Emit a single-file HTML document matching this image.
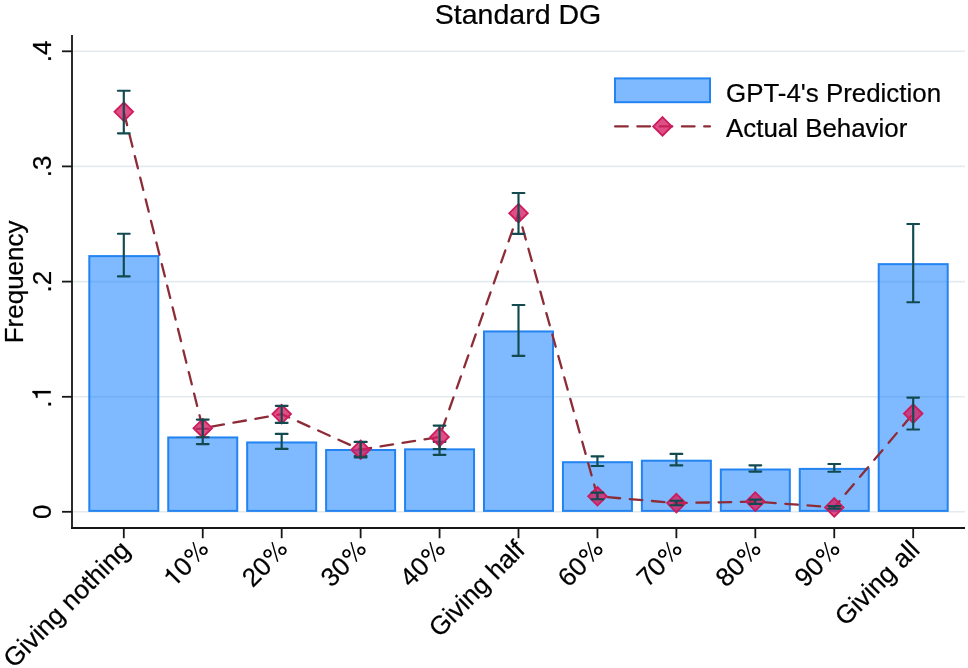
<!DOCTYPE html><html><head><meta charset="utf-8"><style>html,body{margin:0;padding:0;background:#fff;}svg{display:block;will-change:transform;font-family:"Liberation Sans",sans-serif;}text{stroke:#000;stroke-width:0.22px;stroke-linejoin:round;}</style></head><body>
<svg width="968" height="668" viewBox="0 0 968 668">
<rect width="968" height="668" fill="#fff"/>
<line x1="73" y1="51.3" x2="965" y2="51.3" stroke="#e3ebee" stroke-width="1.6"/>
<line x1="73" y1="166.4" x2="965" y2="166.4" stroke="#e3ebee" stroke-width="1.6"/>
<line x1="73" y1="281.6" x2="965" y2="281.6" stroke="#e3ebee" stroke-width="1.6"/>
<line x1="73" y1="396.8" x2="965" y2="396.8" stroke="#e3ebee" stroke-width="1.6"/>
<line x1="73" y1="511.8" x2="965" y2="511.8" stroke="#e3ebee" stroke-width="1.6"/>
<rect x="89.30" y="256.10" width="69.00" height="254.80" fill="rgb(0,116,255)" fill-opacity="0.5" stroke="#2384f1" stroke-width="2"/>
<rect x="168.24" y="437.45" width="69.00" height="73.45" fill="rgb(0,116,255)" fill-opacity="0.5" stroke="#2384f1" stroke-width="2"/>
<rect x="247.18" y="442.45" width="69.00" height="68.45" fill="rgb(0,116,255)" fill-opacity="0.5" stroke="#2384f1" stroke-width="2"/>
<rect x="326.12" y="450.00" width="69.00" height="60.90" fill="rgb(0,116,255)" fill-opacity="0.5" stroke="#2384f1" stroke-width="2"/>
<rect x="405.06" y="449.35" width="69.00" height="61.55" fill="rgb(0,116,255)" fill-opacity="0.5" stroke="#2384f1" stroke-width="2"/>
<rect x="484.00" y="331.45" width="69.00" height="179.45" fill="rgb(0,116,255)" fill-opacity="0.5" stroke="#2384f1" stroke-width="2"/>
<rect x="562.94" y="462.20" width="69.00" height="48.70" fill="rgb(0,116,255)" fill-opacity="0.5" stroke="#2384f1" stroke-width="2"/>
<rect x="641.88" y="460.70" width="69.00" height="50.20" fill="rgb(0,116,255)" fill-opacity="0.5" stroke="#2384f1" stroke-width="2"/>
<rect x="720.82" y="469.50" width="69.00" height="41.40" fill="rgb(0,116,255)" fill-opacity="0.5" stroke="#2384f1" stroke-width="2"/>
<rect x="799.76" y="468.90" width="69.00" height="42.00" fill="rgb(0,116,255)" fill-opacity="0.5" stroke="#2384f1" stroke-width="2"/>
<rect x="878.70" y="264.15" width="69.00" height="246.75" fill="rgb(0,116,255)" fill-opacity="0.5" stroke="#2384f1" stroke-width="2"/>
<path d="M123.80 233.70V276.40M117.90 233.70H129.70M117.90 276.40H129.70" stroke="#124a4f" stroke-width="2.15" stroke-linecap="round" fill="none"/>
<path d="M202.74 428.70V444.10M196.84 428.70H208.64M196.84 444.10H208.64" stroke="#124a4f" stroke-width="2.15" stroke-linecap="round" fill="none"/>
<path d="M281.68 433.90V448.90M275.78 433.90H287.58M275.78 448.90H287.58" stroke="#124a4f" stroke-width="2.15" stroke-linecap="round" fill="none"/>
<path d="M360.62 441.90V456.00M354.72 441.90H366.52M354.72 456.00H366.52" stroke="#124a4f" stroke-width="2.15" stroke-linecap="round" fill="none"/>
<path d="M439.56 441.80V454.80M433.66 441.80H445.46M433.66 454.80H445.46" stroke="#124a4f" stroke-width="2.15" stroke-linecap="round" fill="none"/>
<path d="M518.50 305.00V355.80M512.60 305.00H524.40M512.60 355.80H524.40" stroke="#124a4f" stroke-width="2.15" stroke-linecap="round" fill="none"/>
<path d="M597.44 456.30V466.00M591.54 456.30H603.34M591.54 466.00H603.34" stroke="#124a4f" stroke-width="2.15" stroke-linecap="round" fill="none"/>
<path d="M676.38 453.90V465.40M670.48 453.90H682.28M670.48 465.40H682.28" stroke="#124a4f" stroke-width="2.15" stroke-linecap="round" fill="none"/>
<path d="M755.32 465.30V471.60M749.42 465.30H761.22M749.42 471.60H761.22" stroke="#124a4f" stroke-width="2.15" stroke-linecap="round" fill="none"/>
<path d="M834.26 464.00V471.70M828.36 464.00H840.16M828.36 471.70H840.16" stroke="#124a4f" stroke-width="2.15" stroke-linecap="round" fill="none"/>
<path d="M913.20 224.00V302.20M907.30 224.00H919.10M907.30 302.20H919.10" stroke="#124a4f" stroke-width="2.15" stroke-linecap="round" fill="none"/>
<polyline points="123.80,111.80 202.74,428.20 281.68,414.10 360.62,449.70 439.56,436.90 518.50,213.20 597.44,496.30 676.38,503.10 755.32,501.60 834.26,507.40 913.20,413.60" fill="none" stroke="#8d2c37" stroke-width="2.3" stroke-linecap="round" stroke-dasharray="12.6 9.66" stroke-dashoffset="21.11"/>
<path d="M123.80 102.50L133.10 111.80L123.80 121.10L114.50 111.80Z" fill="rgba(214,30,100,0.78)" stroke="#cc1c5c" stroke-width="1.8" stroke-linejoin="miter"/>
<path d="M202.74 418.90L212.04 428.20L202.74 437.50L193.44 428.20Z" fill="rgba(214,30,100,0.78)" stroke="#cc1c5c" stroke-width="1.8" stroke-linejoin="miter"/>
<path d="M281.68 404.80L290.98 414.10L281.68 423.40L272.38 414.10Z" fill="rgba(214,30,100,0.78)" stroke="#cc1c5c" stroke-width="1.8" stroke-linejoin="miter"/>
<path d="M360.62 440.40L369.92 449.70L360.62 459.00L351.32 449.70Z" fill="rgba(214,30,100,0.78)" stroke="#cc1c5c" stroke-width="1.8" stroke-linejoin="miter"/>
<path d="M439.56 427.60L448.86 436.90L439.56 446.20L430.26 436.90Z" fill="rgba(214,30,100,0.78)" stroke="#cc1c5c" stroke-width="1.8" stroke-linejoin="miter"/>
<path d="M518.50 203.90L527.80 213.20L518.50 222.50L509.20 213.20Z" fill="rgba(214,30,100,0.78)" stroke="#cc1c5c" stroke-width="1.8" stroke-linejoin="miter"/>
<path d="M597.44 487.00L606.74 496.30L597.44 505.60L588.14 496.30Z" fill="rgba(214,30,100,0.78)" stroke="#cc1c5c" stroke-width="1.8" stroke-linejoin="miter"/>
<path d="M676.38 493.80L685.68 503.10L676.38 512.40L667.08 503.10Z" fill="rgba(214,30,100,0.78)" stroke="#cc1c5c" stroke-width="1.8" stroke-linejoin="miter"/>
<path d="M755.32 492.30L764.62 501.60L755.32 510.90L746.02 501.60Z" fill="rgba(214,30,100,0.78)" stroke="#cc1c5c" stroke-width="1.8" stroke-linejoin="miter"/>
<path d="M834.26 498.10L843.56 507.40L834.26 516.70L824.96 507.40Z" fill="rgba(214,30,100,0.78)" stroke="#cc1c5c" stroke-width="1.8" stroke-linejoin="miter"/>
<path d="M913.20 404.30L922.50 413.60L913.20 422.90L903.90 413.60Z" fill="rgba(214,30,100,0.78)" stroke="#cc1c5c" stroke-width="1.8" stroke-linejoin="miter"/>
<path d="M123.80 90.70V133.30M117.90 90.70H129.70M117.90 133.30H129.70" stroke="#124a4f" stroke-width="2.15" stroke-linecap="round" fill="none"/>
<path d="M202.74 419.60V437.20M196.84 419.60H208.64M196.84 437.20H208.64" stroke="#124a4f" stroke-width="2.15" stroke-linecap="round" fill="none"/>
<path d="M281.68 405.80V422.90M275.78 405.80H287.58M275.78 422.90H287.58" stroke="#124a4f" stroke-width="2.15" stroke-linecap="round" fill="none"/>
<path d="M360.62 442.00V457.40M354.72 442.00H366.52M354.72 457.40H366.52" stroke="#124a4f" stroke-width="2.15" stroke-linecap="round" fill="none"/>
<path d="M439.56 425.60V449.00M433.66 425.60H445.46M433.66 449.00H445.46" stroke="#124a4f" stroke-width="2.15" stroke-linecap="round" fill="none"/>
<path d="M518.50 193.00V233.80M512.60 193.00H524.40M512.60 233.80H524.40" stroke="#124a4f" stroke-width="2.15" stroke-linecap="round" fill="none"/>
<path d="M597.44 492.60V499.20M591.54 492.60H603.34M591.54 499.20H603.34" stroke="#124a4f" stroke-width="2.15" stroke-linecap="round" fill="none"/>
<path d="M676.38 500.70V505.20M670.48 500.70H682.28M670.48 505.20H682.28" stroke="#124a4f" stroke-width="2.15" stroke-linecap="round" fill="none"/>
<path d="M755.32 499.60V503.90M749.42 499.60H761.22M749.42 503.90H761.22" stroke="#124a4f" stroke-width="2.15" stroke-linecap="round" fill="none"/>
<path d="M834.26 506.10V508.70M828.36 506.10H840.16M828.36 508.70H840.16" stroke="#124a4f" stroke-width="2.15" stroke-linecap="round" fill="none"/>
<path d="M913.20 397.60V429.50M907.30 397.60H919.10M907.30 429.50H919.10" stroke="#124a4f" stroke-width="2.15" stroke-linecap="round" fill="none"/>
<path d="M72 35V529M71 528H965" stroke="#161616" stroke-width="1.8" fill="none"/>
<line x1="62" y1="51.3" x2="72" y2="51.3" stroke="#161616" stroke-width="1.8"/>
<line x1="62" y1="166.4" x2="72" y2="166.4" stroke="#161616" stroke-width="1.8"/>
<line x1="62" y1="281.6" x2="72" y2="281.6" stroke="#161616" stroke-width="1.8"/>
<line x1="62" y1="396.8" x2="72" y2="396.8" stroke="#161616" stroke-width="1.8"/>
<line x1="62" y1="511.8" x2="72" y2="511.8" stroke="#161616" stroke-width="1.8"/>
<line x1="123.80" y1="528" x2="123.80" y2="538.2" stroke="#161616" stroke-width="1.8"/>
<line x1="202.74" y1="528" x2="202.74" y2="538.2" stroke="#161616" stroke-width="1.8"/>
<line x1="281.68" y1="528" x2="281.68" y2="538.2" stroke="#161616" stroke-width="1.8"/>
<line x1="360.62" y1="528" x2="360.62" y2="538.2" stroke="#161616" stroke-width="1.8"/>
<line x1="439.56" y1="528" x2="439.56" y2="538.2" stroke="#161616" stroke-width="1.8"/>
<line x1="518.50" y1="528" x2="518.50" y2="538.2" stroke="#161616" stroke-width="1.8"/>
<line x1="597.44" y1="528" x2="597.44" y2="538.2" stroke="#161616" stroke-width="1.8"/>
<line x1="676.38" y1="528" x2="676.38" y2="538.2" stroke="#161616" stroke-width="1.8"/>
<line x1="755.32" y1="528" x2="755.32" y2="538.2" stroke="#161616" stroke-width="1.8"/>
<line x1="834.26" y1="528" x2="834.26" y2="538.2" stroke="#161616" stroke-width="1.8"/>
<line x1="913.20" y1="528" x2="913.20" y2="538.2" stroke="#161616" stroke-width="1.8"/>
<text transform="translate(50.7 51.3) rotate(-90)" text-anchor="middle" font-size="26" fill="#000">.4</text>
<text transform="translate(50.7 166.4) rotate(-90)" text-anchor="middle" font-size="26" fill="#000">.3</text>
<text transform="translate(50.7 281.6) rotate(-90)" text-anchor="middle" font-size="26" fill="#000">.2</text>
<g transform="translate(50.7 396.8) rotate(-90)"><text text-anchor="middle" font-size="26" fill="#000">.<tspan style="fill:none;stroke:none">1</tspan></text><path d="M5.72 0.00 L3.44 0.00 L3.44 -13.08 L-0.98 -13.08 L-0.98 -14.72 C1.33 -14.82 2.76 -15.34 3.41 -16.51 C3.75 -17.16 4.01 -17.81 4.11 -18.28 L5.72 -18.28Z" fill="#000" stroke="#000" stroke-width="0.25" stroke-linejoin="round"/></g>
<text transform="translate(50.7 511.8) rotate(-90)" text-anchor="middle" font-size="26" fill="#000">0</text>
<text transform="translate(131.60 551.4) rotate(-45)" text-anchor="end" font-size="26" fill="#000">Giving nothing</text>
<g transform="translate(210.54 551.4) rotate(-45)"><text text-anchor="end" font-size="26" fill="#000"><tspan style="fill:none;stroke:none">1</tspan>0<tspan style="fill:none;stroke:none">%</tspan></text><path d="M-42.71 0.00 L-44.99 0.00 L-44.99 -13.08 L-49.41 -13.08 L-49.41 -14.72 C-47.10 -14.82 -45.67 -15.34 -45.02 -16.51 C-44.68 -17.16 -44.42 -17.81 -44.32 -18.28 L-42.71 -18.28Z" fill="#000" stroke="#000" stroke-width="0.25" stroke-linejoin="round"/><circle cx="-16.93" cy="-14.09" r="3.35" fill="none" stroke="#000" stroke-width="1.8"/><circle cx="-4.55" cy="-5.41" r="3.35" fill="none" stroke="#000" stroke-width="1.8"/><line x1="-15.65" y1="-0.96" x2="-5.75" y2="-18.90" stroke="#000" stroke-width="1.4"/></g>
<g transform="translate(289.48 551.4) rotate(-45)"><text text-anchor="end" font-size="26" fill="#000">20<tspan style="fill:none;stroke:none">%</tspan></text><circle cx="-16.93" cy="-14.09" r="3.35" fill="none" stroke="#000" stroke-width="1.8"/><circle cx="-4.55" cy="-5.41" r="3.35" fill="none" stroke="#000" stroke-width="1.8"/><line x1="-15.65" y1="-0.96" x2="-5.75" y2="-18.90" stroke="#000" stroke-width="1.4"/></g>
<g transform="translate(368.42 551.4) rotate(-45)"><text text-anchor="end" font-size="26" fill="#000">30<tspan style="fill:none;stroke:none">%</tspan></text><circle cx="-16.93" cy="-14.09" r="3.35" fill="none" stroke="#000" stroke-width="1.8"/><circle cx="-4.55" cy="-5.41" r="3.35" fill="none" stroke="#000" stroke-width="1.8"/><line x1="-15.65" y1="-0.96" x2="-5.75" y2="-18.90" stroke="#000" stroke-width="1.4"/></g>
<g transform="translate(447.36 551.4) rotate(-45)"><text text-anchor="end" font-size="26" fill="#000">40<tspan style="fill:none;stroke:none">%</tspan></text><circle cx="-16.93" cy="-14.09" r="3.35" fill="none" stroke="#000" stroke-width="1.8"/><circle cx="-4.55" cy="-5.41" r="3.35" fill="none" stroke="#000" stroke-width="1.8"/><line x1="-15.65" y1="-0.96" x2="-5.75" y2="-18.90" stroke="#000" stroke-width="1.4"/></g>
<text transform="translate(526.30 551.4) rotate(-45)" text-anchor="end" font-size="26" fill="#000">Giving half</text>
<g transform="translate(605.24 551.4) rotate(-45)"><text text-anchor="end" font-size="26" fill="#000">60<tspan style="fill:none;stroke:none">%</tspan></text><circle cx="-16.93" cy="-14.09" r="3.35" fill="none" stroke="#000" stroke-width="1.8"/><circle cx="-4.55" cy="-5.41" r="3.35" fill="none" stroke="#000" stroke-width="1.8"/><line x1="-15.65" y1="-0.96" x2="-5.75" y2="-18.90" stroke="#000" stroke-width="1.4"/></g>
<g transform="translate(684.18 551.4) rotate(-45)"><text text-anchor="end" font-size="26" fill="#000">70<tspan style="fill:none;stroke:none">%</tspan></text><circle cx="-16.93" cy="-14.09" r="3.35" fill="none" stroke="#000" stroke-width="1.8"/><circle cx="-4.55" cy="-5.41" r="3.35" fill="none" stroke="#000" stroke-width="1.8"/><line x1="-15.65" y1="-0.96" x2="-5.75" y2="-18.90" stroke="#000" stroke-width="1.4"/></g>
<g transform="translate(763.12 551.4) rotate(-45)"><text text-anchor="end" font-size="26" fill="#000">80<tspan style="fill:none;stroke:none">%</tspan></text><circle cx="-16.93" cy="-14.09" r="3.35" fill="none" stroke="#000" stroke-width="1.8"/><circle cx="-4.55" cy="-5.41" r="3.35" fill="none" stroke="#000" stroke-width="1.8"/><line x1="-15.65" y1="-0.96" x2="-5.75" y2="-18.90" stroke="#000" stroke-width="1.4"/></g>
<g transform="translate(842.06 551.4) rotate(-45)"><text text-anchor="end" font-size="26" fill="#000">90<tspan style="fill:none;stroke:none">%</tspan></text><circle cx="-16.93" cy="-14.09" r="3.35" fill="none" stroke="#000" stroke-width="1.8"/><circle cx="-4.55" cy="-5.41" r="3.35" fill="none" stroke="#000" stroke-width="1.8"/><line x1="-15.65" y1="-0.96" x2="-5.75" y2="-18.90" stroke="#000" stroke-width="1.4"/></g>
<text transform="translate(921.00 551.4) rotate(-45)" text-anchor="end" font-size="26" fill="#000">Giving all</text>
<text x="518" y="24.1" text-anchor="middle" font-size="28.5" fill="#000">Standard DG</text>
<text transform="translate(22.8 281.9) rotate(-90)" text-anchor="middle" font-size="26" fill="#000">Frequency</text>
<rect x="615" y="78.4" width="95" height="23.8" fill="rgb(0,116,255)" fill-opacity="0.5" stroke="#2384f1" stroke-width="2"/>
<line x1="614" y1="126.4" x2="709.9" y2="126.4" stroke="#8d2c37" stroke-width="2.3" stroke-linecap="round" stroke-dasharray="12.6 9.66" stroke-dashoffset="21.11"/>
<path d="M662.50 117.10L671.80 126.40L662.50 135.70L653.20 126.40Z" fill="rgba(214,30,100,0.78)" stroke="#cc1c5c" stroke-width="1.8" stroke-linejoin="miter"/>
<text x="726" y="102.1" font-size="25.9" fill="#000">GPT-4's Prediction</text>
<text x="726" y="137" font-size="25.9" fill="#000">Actual Behavior</text>
</svg></body></html>
